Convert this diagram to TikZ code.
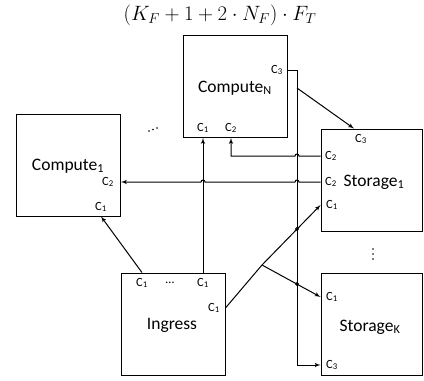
\documentclass[tikz,border=0pt]{standalone}
\usepackage{amsmath}
\usepackage{fontspec}
\setmainfont{Carlito}
\usetikzlibrary{arrows}
\tikzset{box/.style={draw, line width=0.9pt, minimum width=104pt, minimum height=102pt, inner sep=0pt}}
\tikzset{port/.style={font=\fontsize{12.5}{14}\selectfont, inner sep=1pt}}
\tikzset{boxtext/.style={font=\fontsize{17.5}{20}\selectfont, inner sep=1pt}}
\tikzset{conn/.style={line width=1pt}}

\begin{document}
\begin{tikzpicture}[x=1pt,y=-1pt,>=latex']
  \useasboundingbox (0,0) rectangle (424,381);
  \node[font=\fontsize{21}{25}\selectfont] (title) at (220,15) {$(K_F+1+2\cdot N_F)\cdot F_T$};
  % boxes
  \node[box] (cmpN) at (235,86.5) {};
  \node[box] (cmp1) at (68.5,165) {};
  \node[box, minimum width=101pt] (stg1) at (371.5,180) {};
  \node[box, minimum width=101pt] (stgK) at (371.5,324.5) {};
  \node[box] (ingress) at (173,324) {};
  \node[boxtext] (cmpNtxt) at (235,88) {Compute\textsubscript{N}};
  \node[boxtext] (cmp1txt) at (68,166) {Compute\textsubscript{1}};
  \node[boxtext] (stg1txt) at (374,182) {Storage\textsubscript{1}};
  \node[boxtext] (stgKtxt) at (370,327) {Storage\textsubscript{K}};
  \node[boxtext] (ingtxt) at (172,325) {Ingress};
  % ports
  \node[port] (nC3) at (277,70) {C\textsubscript{3}};
  \node[port] (nC1) at (203,128) {C\textsubscript{1}};
  \node[port] (nC2) at (231,128) {C\textsubscript{2}};
  \node[port] (c1C2) at (108,182) {C\textsubscript{2}};
  \node[port] (c1C1) at (101,207) {C\textsubscript{1}};
  \node[port] (s1C3) at (361,139) {C\textsubscript{3}};
  \node[port] (s1C2a) at (331,156) {C\textsubscript{2}};
  \node[port] (s1C2b) at (331,182) {C\textsubscript{2}};
  \node[port] (s1C1) at (332,205) {C\textsubscript{1}};
  \node[port] (kC1) at (332,297) {C\textsubscript{1}};
  \node[port] (kC3) at (332,365) {C\textsubscript{3}};
  \node[port] (iC1a) at (142,283) {C\textsubscript{1}};
  \node[port] (idots) at (170,283) {\dots};
  \node[port] (iC1b) at (203,283) {C\textsubscript{1}};
  \node[port] (iC1c) at (214,308) {C\textsubscript{1}};
  \coordinate (bus) at (297,0);
  \coordinate (fork) at (262,265);
  % connectors
  \draw[conn,->] (cmpN.east |- nC3) -- (bus |- nC3) -- (bus |- kC3) -- (stgK.west |- kC3);
  \draw[conn,->] (bus |- cmpNtxt) -- (s1C3.north west |- stg1.north);
  \draw[conn,->] (stg1.west |- s1C2a) -- ([xshift=2pt]bus |- s1C2a)
    arc[start angle=0, end angle=-180, radius=2] -- (nC2 |- s1C2a) -- (cmpN.south -| nC2);
  \draw[conn,->] (stg1.west |- s1C2b) -- ([xshift=2pt]bus |- s1C2b)
    arc[start angle=0, end angle=-180, radius=2] -- ([xshift=2pt]iC1b |- s1C2b)
    arc[start angle=0, end angle=-180, radius=2] -- (cmp1.east |- s1C2b);
  \draw[conn,->] (ingress.north -| iC1a) -- (cmp1.south -| c1C1);
  \draw[conn,->] (ingress.north -| iC1b) -- (cmpN.south -| iC1b);
  \draw[conn] (ingress.east |- iC1c) -- (fork);
  \draw[conn,->] (fork) -- (stg1.west |- s1C1);
  \draw[conn,->] (fork) -- (stgK.west |- kC1);
  \foreach \y in {229,284}
  \draw[conn] (297,\y) circle[radius=1.3];
  % ellipses
  \foreach \x/\y in {149/131,153/129.5,157/128}
  \fill (\x,\y) circle[radius=0.9];
  \foreach \y in {249,254,259}
  \fill (373,\y) circle[radius=0.9];
\end{tikzpicture}
\end{document}
